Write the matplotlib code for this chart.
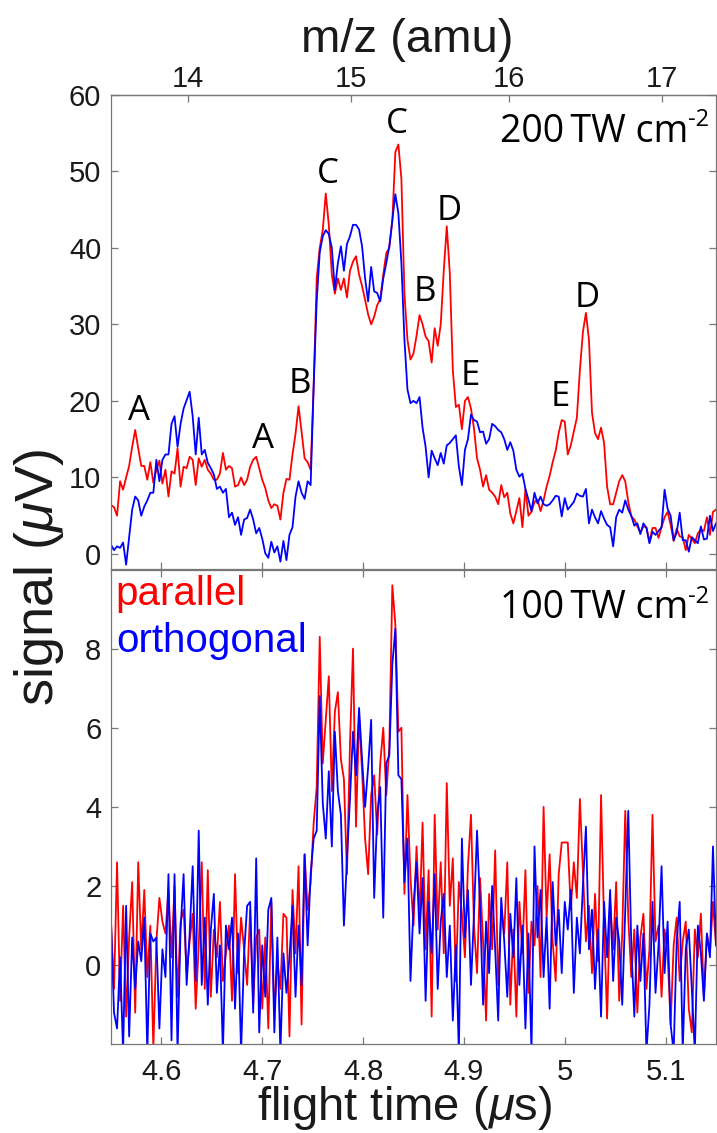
import numpy as np
import matplotlib
matplotlib.use('Agg')
import matplotlib.pyplot as plt

plt.rcParams['font.family'] = ['Liberation Sans', 'DejaVu Sans']
plt.rcParams['mathtext.fontset'] = 'custom'
plt.rcParams['mathtext.rm'] = 'Liberation Sans'
plt.rcParams['mathtext.it'] = 'Liberation Sans:italic'

# sampling of the traces (flight time, us)
t_start = 4.55
t_step = 0.003
n_samples = 201

# 200 TW cm^-2 traces (uV)
red_200 = [
    6.4, 6.1, 5.0, 9.5, 8.4, 10.0, 11.5, 14.0, 16.2, 13.8,
    11.5, 11.5, 9.7, 12.0, 9.3, 11.0, 12.2, 9.2, 11.0, 7.5,
    10.8, 10.5, 13.8, 8.8, 11.4, 11.2, 12.7, 12.3, 9.0, 12.5,
    11.4, 12.3, 11.0, 10.5, 9.7, 9.7, 10.5, 13.2, 11.0, 11.5,
    11.2, 8.8, 9.0, 10.0, 9.0, 9.7, 11.4, 12.3, 12.7, 11.2,
    9.7, 8.6, 7.0, 6.0, 6.5, 6.3, 4.5, 8.0, 9.8, 9.7,
    13.0, 15.7, 19.3, 16.0, 12.5, 12.0, 11.0, 22.0, 36.0, 40.0,
    42.3, 47.1, 43.0, 36.5, 34.0, 36.0, 34.5, 36.0, 33.5, 37.0,
    38.2, 38.9, 36.5, 35.0, 33.2, 31.3, 30.0, 31.0, 32.5, 33.3,
    36.5, 39.3, 40.0, 43.5, 52.5, 53.5, 49.0, 34.0, 28.0, 25.4,
    26.2, 28.5, 31.2, 30.0, 28.4, 27.8, 25.0, 29.5, 27.2, 30.0,
    37.0, 42.8, 36.7, 24.0, 19.2, 19.5, 16.3, 20.0, 20.5, 19.0,
    16.4, 12.5, 11.0, 8.8, 10.3, 8.4, 8.0, 7.5, 6.5, 9.0,
    7.4, 8.0, 5.3, 4.0, 5.6, 7.3, 3.5, 8.5, 5.0, 5.5,
    6.8, 7.1, 5.6, 7.0, 8.8, 10.2, 12.0, 13.5, 15.8, 17.5,
    17.3, 13.0, 14.2, 16.0, 17.8, 24.0, 29.0, 31.5, 28.0, 18.5,
    15.8, 15.0, 16.5, 14.5, 8.8, 6.5, 6.5, 8.0, 9.5, 10.3,
    9.5, 6.8, 4.9, 4.5, 3.6, 2.8, 3.6, 3.5, 1.6, 3.4,
    3.4, 2.1, 3.5, 4.8, 5.5, 3.8, 1.7, 3.3, 2.3, 2.2,
    0.5, 2.5, 2.0, 1.4, 2.7, 3.2, 3.0, 4.8, 2.5, 5.5, 5.8]
blue_200 = [
    1.2, 0.5, 1.0, 0.8, 1.5, -1.4, 2.2, 5.8, 7.5, 7.0,
    5.0, 6.2, 7.0, 8.0, 8.0, 12.3, 9.5, 12.3, 13.0, 13.0,
    17.0, 18.0, 14.0, 17.0, 19.0, 20.1, 21.2, 18.0, 13.0, 17.8,
    13.0, 13.6, 11.9, 11.2, 10.4, 8.5, 8.8, 8.0, 8.5, 4.8,
    5.4, 3.8, 4.8, 2.5, 4.5, 4.7, 5.8, 4.5, 2.7, 3.4,
    2.0, 0.1, -0.5, 1.6, 0.2, 1.0, -1.0, 1.7, -0.8, 2.5,
    3.5, 7.5, 9.5, 8.0, 7.2, 9.5, 9.0, 22.0, 33.0, 39.4,
    41.5, 42.3, 41.8, 40.0, 34.5, 38.0, 40.2, 37.0, 40.5, 41.5,
    43.0, 43.0, 42.4, 40.2, 36.0, 33.0, 37.5, 34.3, 34.1, 33.0,
    36.0, 38.0, 40.2, 43.6, 47.0, 44.5, 38.0, 28.0, 21.5, 19.7,
    20.0, 19.7, 20.5, 16.5, 14.0, 10.0, 13.5, 12.5, 11.6, 13.2,
    11.8, 14.2, 14.5, 15.0, 15.5, 11.4, 9.0, 13.6, 15.0, 18.2,
    17.5, 17.3, 15.9, 16.0, 14.4, 15.0, 17.0, 16.7, 16.2, 15.9,
    15.0, 13.6, 14.6, 13.5, 11.0, 10.1, 10.5, 8.5, 7.1, 5.6,
    8.0, 6.6, 7.5, 6.5, 6.3, 6.5, 7.0, 7.6, 7.5, 4.9,
    7.3, 5.8, 6.3, 6.8, 7.9, 7.6, 7.5, 8.5, 4.0, 5.8,
    4.8, 4.0, 5.6, 4.6, 3.8, 3.5, 1.0, 4.8, 5.8, 5.4,
    7.0, 5.8, 5.0, 3.7, 4.0, 2.6, 4.0, 3.4, 1.4, 2.9,
    2.5, 3.0, 3.5, 8.4, 5.9, 5.0, 1.8, 2.8, 5.4, 1.8,
    1.8, 0.3, 2.2, 1.8, 1.4, 3.6, 1.9, 2.0, 5.0, 3.0, 4.0]

# 100 TW cm^-2 traces (uV)
red_100 = [
    1.1, -0.6, 2.6, -0.9, 1.5, -1.3, 0.7, 2.1, -1.2, 2.6,
    0.4, 1.9, -0.3, 1.0, -2.1, 0.6, 1.7, 1.1, 0.8, 1.9,
    0.2, 2.0, -0.8, 1.1, 1.4, -0.2, 0.6, 1.3, -1.1, 0.5,
    2.6, -0.6, 2.4, -0.8, 0.9, 0.2, 1.6, -0.4, 0.3, 1.0,
    -0.9, 2.3, -0.2, 1.2, 0.4, -0.5, 1.4, -1.0, 0.7, 0.9,
    -1.1, 0.7, -1.6, 1.6, -1.2, 0.1, -0.6, 1.3, 1.2, -1.8,
    1.9, 0.3, 2.5, -1.5, 2.8, 1.4, 2.1, 3.6, 4.5, 8.3,
    5.1, 6.2, 7.3, 4.4, 6.4, 6.9, 5.2, 4.7, 2.3, 5.6,
    8.0, 3.5, 6.3, 4.9, 3.2, 2.3, 4.3, 4.8, 3.3, 5.1,
    6.0, 4.3, 5.5, 9.6, 8.6, 5.9, 6.0, 1.8, 4.3, 2.2,
    1.0, 3.0, 1.2, 3.6, 0.4, 2.4, -1.3, 3.8, 0.9, 2.6,
    0.3, 4.6, 1.5, 2.7, -0.4, 2.1, 1.3, 0.2, 2.5, 3.8,
    1.0, -0.2, 2.2, 0.6, -1.4, 1.8, 0.4, 2.9, -0.5, 1.4,
    0.8, 2.6, -1.0, 0.9, -1.3, 1.6, 0.3, 2.4, -0.7, 1.1,
    0.5, 2.0, -0.3, 4.0, 1.2, 2.8, 0.6, -0.4, 2.3, 3.1,
    3.1, 3.1, 1.4, 2.6, 1.7, 4.2, 2.4, 0.6, 1.5, -0.2,
    1.8, 0.1, 4.3, 1.0, -1.35, 1.6, 0.4, 2.1, -0.9, 0.8,
    3.9, 1.2, -0.3, 0.9, -1.2, 0.7, 1.3, -0.6, 0.4, 3.8,
    0.6, 1.0, -0.8, 0.9, 0.3, -1.5, 0.5, 1.2, -0.4, 0.6,
    1.1, -1.1, -1.7, 0.9, 0.2, 1.3, -0.8, 0.8, 0.3, 1.6, 0.5]
blue_100 = [
    1.1, -1.2, -1.6, 0.2, -2.2, 1.5, -1.8, 0.7, -0.6, 0.6,
    0.1, 1.2, -2.2, 0.8, 0.6, 0.7, -1.6, 0.4, -0.3, 2.3,
    -1.9, 2.3, -2.2, 0.9, 2.3, -0.5, 0.8, 2.5, -0.4, 3.4,
    -0.5, 1.2, -1.0, 0.9, 1.8, -0.7, 0.5, -2.2, 1.0, 0.4,
    1.2, -1.1, 0.8, -2.2, 0.3, 1.5, 1.6, -1.2, 2.7, -1.7,
    0.5, -0.8, 1.4, 1.7, -1.7, 0.7, -2.2, 0.3, -0.7, 0.2,
    1.5, -0.8, 1.0, -0.5, 2.8, 0.5, 2.3, 3.2, 3.4, 6.8,
    4.1, 3.2, 4.9, 3.0, 5.9, 4.4, 3.8, 1.0, 2.7, 4.2,
    5.9, 4.8, 6.5, 5.2, 4.0, 5.0, 6.2, 1.7, 3.8, 4.5,
    1.2, 5.1, 5.3, 7.6, 8.5, 4.8, 4.7, 2.1, 3.2, -0.4,
    1.5, 2.6, 0.8, 2.2, -0.9, 1.6, 0.3, 2.3, -0.6, 1.1,
    1.8, -0.3, 1.0, -1.4, 0.5, -2.2, 3.2, 0.7, 1.9, -0.5,
    1.3, 3.4, 1.5, -1.0, 1.1, -0.2, 2.0, 0.4, -1.4, 1.7,
    0.6, -0.8, 1.3, 0.2, 2.2, -0.5, 1.0, -1.6, 0.8, -2.2,
    3.0, 0.7, 1.9, -0.3, 1.2, -1.1, 2.1, 0.5, 1.4, -0.2,
    1.6, 0.9, 1.9, -0.7, 1.2, 0.3, 2.0, 3.5, 0.4, 1.4,
    -0.6, 0.9, -1.3, 1.6, 0.2, 1.9, -0.4, 1.2, 0.6, -1.0,
    1.4, 3.9, 0.5, -1.3, 1.0, -0.4, 0.8, -2.2, -1.0, 1.6,
    -0.7, 0.5, 2.5, -0.2, 1.1, -1.5, -2.2, 0.6, 1.6, -2.2,
    0.4, 0.9, -0.6, -2.2, 1.0, 0.3, -0.9, 0.8, 0.2, 3.0, 0.5]

# peak labels in the upper panel (flight time, signal)
peak_names = ['A', 'A', 'B', 'C', 'C', 'B', 'D', 'E', 'E', 'D']
peak_t = [4.578, 4.701, 4.737, 4.765, 4.833, 4.861, 4.885, 4.906, 4.996, 5.022]
peak_v = [17.5, 13.8, 21.0, 48.4, 55.0, 33.0, 43.6, 22.1, 19.3, 32.3]

mz_ticks = [14, 15, 16, 17]
# flight time = k * sqrt(m/z) + t0
tof_k = 1.233
tof_t0 = 0.013

t = t_start + t_step * np.arange(n_samples)

gray = '#777777'
txt = '#1a1a1a'
ann_font = ['Open Sans', 'DejaVu Sans']


def t2m(x):
    return ((np.asarray(x, dtype=float) - tof_t0) / tof_k) ** 2


def m2t(m):
    return tof_k * np.sqrt(np.clip(np.asarray(m, dtype=float), 0, None)) + tof_t0


fig = plt.figure(figsize=(7.17, 11.33), dpi=100)
ax1 = fig.add_axes([0.15481, 0.49753, 0.84380, 0.41889])
ax2 = fig.add_axes([0.15481, 0.07829, 0.84380, 0.41906])

ax1.plot(t, red_200, color='#ff0000', lw=1.3)
ax1.plot(t, blue_200, color='#0000ff', lw=1.3)
ax2.plot(t, red_100, color='#ff0000', lw=1.3)
ax2.plot(t, blue_100, color='#0000ff', lw=1.3)

for ax in (ax1, ax2):
    ax.set_xlim(4.55, 5.15)
    ax.set_xticks([4.6, 4.7, 4.8, 4.9, 5.0, 5.1])
    ax.set_xticklabels(['4.6', '4.7', '4.8', '4.9', '5', '5.1'])
    for sp in ax.spines.values():
        sp.set_color(gray)
        sp.set_linewidth(0.9)
    ax.tick_params(direction='in', length=5, width=0.9, color=gray,
                   labelcolor=txt, labelsize=21, right=True)
    ax.tick_params(axis='y', pad=7)
    ax.tick_params(axis='x', pad=10)

ax1.set_ylim(-2, 60)
ax1.set_yticks([0, 10, 20, 30, 40, 50, 60])
ax1.tick_params(axis='x', top=False, labelbottom=False)

ax2.set_ylim(-2, 10)
ax2.set_yticks([0, 2, 4, 6, 8])
ax2.tick_params(axis='x', top=True)

sec = ax1.secondary_xaxis('top', functions=(t2m, m2t))
sec.set_xticks(mz_ticks)
sec.set_xticklabels([str(m) for m in mz_ticks])
sec.tick_params(direction='in', length=5, width=0.9, color=gray,
                labelcolor=txt, labelsize=21, pad=1)
sec.spines['top'].set_color(gray)
sec.spines['top'].set_linewidth(0.9)

for name, tx, vy in zip(peak_names, peak_t, peak_v):
    ax1.text(tx, vy, name, ha='center', va='baseline', fontsize=25,
             family=ann_font, color='black')

for ax, lab, ybase in ((ax1, '200\u2009TW cm', 0.901), (ax2, '100\u2009TW cm', 0.897)):
    main = ax.text(0.643, ybase, lab, transform=ax.transAxes, ha='left',
                   va='baseline', fontsize=27, family=ann_font, color='black')
    ax.annotate('-2', xy=(1.0, 0.64), xycoords=main, ha='left', va='baseline',
                fontsize=17, family=ann_font, color='black')

ax2.text(0.0066, 0.9253, 'parallel', transform=ax2.transAxes, color='#ff0000',
         fontsize=29, ha='left', va='baseline')
ax2.text(0.0091, 0.8269, 'orthogonal', transform=ax2.transAxes, color='#0000ff',
         fontsize=29, ha='left', va='baseline')

fig.text(404.8 / 717, 1 - 1120 / 1133, r'flight time ($\mu$s)', ha='center',
         va='baseline', fontsize=34, color=txt)
fig.text(406.7 / 717, 1 - 51.7 / 1133, 'm/z (amu)', ha='center',
         va='baseline', fontsize=34, color=txt)
fig.text(53 / 717, 1 - 578 / 1133, r'signal ($\mu$V)', ha='center',
         va='baseline', rotation=90, rotation_mode='anchor', fontsize=39,
         color=txt)

fig.savefig('out.png', dpi=100)
